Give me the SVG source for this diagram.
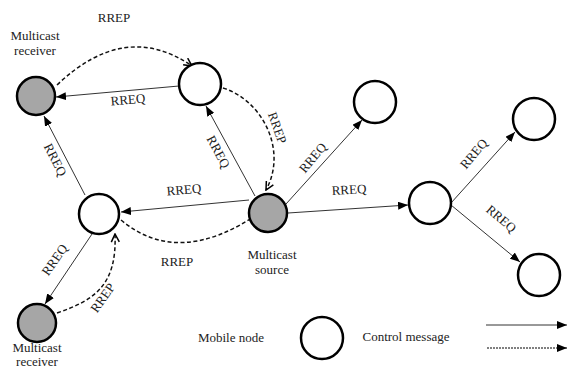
<svg xmlns="http://www.w3.org/2000/svg" width="568" height="369" viewBox="0 0 568 369">
<style>
.n{stroke:#000;stroke-width:2.5}
.w{fill:#fff}
.g{fill:#a6a6a6}
.s{stroke:#333;stroke-width:1;fill:none;marker-end:url(#a)}
.d{stroke:#111;stroke-width:1.5;stroke-dasharray:4 2.5;fill:none;marker-end:url(#o)}
</style>
<defs>
<marker id="a" viewBox="0 0 10 8" refX="10" refY="4" markerWidth="10" markerHeight="8" markerUnits="userSpaceOnUse" orient="auto"><path d="M0,0L10,4L0,8z" fill="#000"/></marker>
<marker id="o" viewBox="0 0 10 10" refX="9" refY="5" markerWidth="10" markerHeight="10" markerUnits="userSpaceOnUse" orient="auto"><path d="M1,1L9,5L1,9" fill="none" stroke="#000" stroke-width="1.5"/></marker>
</defs>
<g id="connectors">
<path class="s" d="M179,86L56,97"/>
<path class="s" d="M85,195L44,116"/>
<path class="s" d="M255,196L206,106"/>
<path class="s" d="M249,200L121,212"/>
<path class="s" d="M92,234L45,304"/>
<path class="s" d="M286,204L362,120"/>
<path class="s" d="M288,213L408,205"/>
<path class="s" d="M451,203L515,132"/>
<path class="s" d="M451,205L520,262"/>
<path class="d" d="M57,85Q125,20 192,66"/>
<path class="d" d="M223,88C262,100 288,150 266,190"/>
<path class="d" d="M121,220Q178,268 258,214"/>
<path class="d" d="M57,313C95,300 117,285 115,234"/>
<path class="s" d="M486,325L567,325"/>
<path d="M487,348L567,348" stroke="#000" stroke-width="1" stroke-dasharray="2 1" fill="none" marker-end="url(#a)"/>
</g>
<g font-family="Liberation Serif, Times New Roman, serif" font-size="13" fill="#222" text-anchor="middle">
<g id="labels">
<text x="128" y="104" transform="rotate(-5 128 100)">RREQ</text>
<text x="55" y="164" transform="rotate(63 55 160)">RREQ</text>
<text x="218" y="156" transform="rotate(62 218 152)">RREQ</text>
<text x="184" y="194" transform="rotate(-5 184 190)">RREQ</text>
<text x="55" y="264" transform="rotate(-55 55 260)">RREQ</text>
<text x="313" y="162" transform="rotate(-50 313 158)">RREQ</text>
<text x="349" y="194" transform="rotate(-3 349 190)">RREQ</text>
<text x="474" y="158" transform="rotate(-50 474 154)">RREQ</text>
<text x="501" y="223" transform="rotate(40 501 219)">RREQ</text>
<text x="114" y="22">RREP</text>
<text x="277" y="132" transform="rotate(70 277 128)">RREP</text>
<text x="177" y="266">RREP</text>
<text x="103" y="302" transform="rotate(-55 103 298)">RREP</text>
</g>
<g id="recv1"><circle class="n g" cx="36" cy="96" r="19"/><text x="35" y="40">Multicast</text><text x="35" y="55">receiver</text></g>
<g id="node1"><circle class="n w" cx="200" cy="84" r="21"/></g>
<g id="node2"><circle class="n w" cx="99" cy="214" r="20"/></g>
<g id="source"><circle class="n g" cx="268" cy="213" r="19"/><text x="272" y="259">Multicast</text><text x="272" y="274">source</text></g>
<g id="recv2"><circle class="n g" cx="37" cy="323" r="19"/><text x="37" y="352">Multicast</text><text x="37" y="366">receiver</text></g>
<g id="node3"><circle class="n w" cx="375" cy="102" r="21"/></g>
<g id="node4"><circle class="n w" cx="430" cy="203" r="21"/></g>
<g id="node5"><circle class="n w" cx="534" cy="119" r="21"/></g>
<g id="node6"><circle class="n w" cx="539" cy="275" r="21"/></g>
<g id="legend"><text x="231" y="342">Mobile node</text><circle class="n w" cx="322" cy="338" r="21"/><text x="406" y="341">Control message</text></g>
</g>
</svg>
